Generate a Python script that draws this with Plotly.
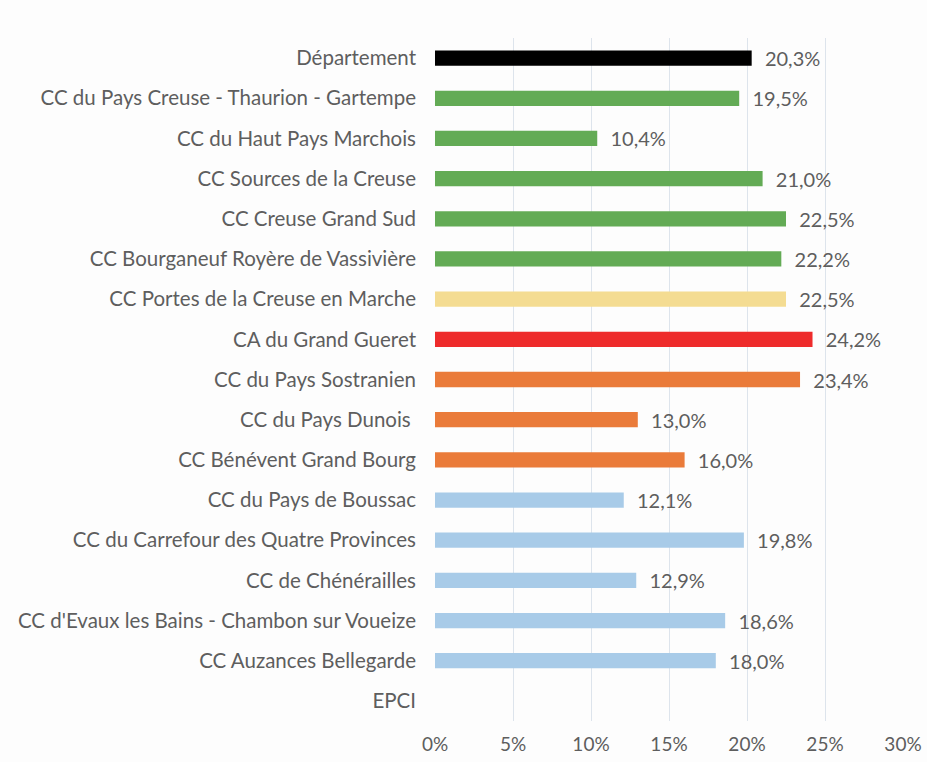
import plotly.graph_objects as go

categories = [
    "Département",
    "CC du Pays Creuse - Thaurion - Gartempe",
    "CC du Haut Pays Marchois",
    "CC Sources de la Creuse",
    "CC Creuse Grand Sud",
    "CC Bourganeuf Royère de Vassivière",
    "CC Portes de la Creuse en Marche",
    "CA du Grand Gueret",
    "CC du Pays Sostranien",
    "CC du Pays Dunois ",
    "CC Bénévent Grand Bourg",
    "CC du Pays de Boussac",
    "CC du Carrefour des Quatre Provinces",
    "CC de Chénérailles",
    "CC d'Evaux les Bains - Chambon sur Voueize",
    "CC Auzances Bellegarde",
    "EPCI",
]
values = [20.3, 19.5, 10.4, 21.0, 22.5, 22.2, 22.5, 24.2, 23.4, 13.0, 16.0,
          12.1, 19.8, 12.9, 18.6, 18.0, None]
colors = ["#000000", "#63ab55", "#63ab55", "#63ab55", "#63ab55", "#63ab55",
          "#f4dc92", "#ee2b2b", "#ea7b3a", "#ea7b3a", "#ea7b3a",
          "#a8cbe8", "#a8cbe8", "#a8cbe8", "#a8cbe8", "#a8cbe8", "#ffffff"]
tick_vals = [0, 5, 10, 15, 20, 25, 30]
tick_text = ["0%", "5%", "10%", "15%", "20%", "25%", "30%"]

labels = ["" if v is None else "  " + f"{v:.1f}%".replace(".", ",") for v in values]

fig = go.Figure(go.Bar(
    x=values, y=categories, orientation="h",
    marker=dict(color=colors, line=dict(width=0)),
    text=labels, textposition="outside", cliponaxis=False,
    constraintext="none",
    textfont=dict(family="Lato", size=20, color="#5e5e5e"),
    width=0.38,
))

fig.update_layout(
    width=927, height=762,
    margin=dict(l=435, r=24, t=38, b=41),
    paper_bgcolor="#fdfdfd", plot_bgcolor="#fdfdfd",
    showlegend=False,
    font=dict(family="Lato", size=20, color="#5e5e5e"),
    xaxis=dict(range=[0, 30], tickvals=tick_vals, ticktext=tick_text,
               showgrid=True, gridcolor="#dde4ec", gridwidth=1,
               zeroline=False, showline=False, ticks="",
               automargin=False, ticklabelstandoff=10,
               tickfont=dict(family="Lato", size=19, color="#5e5e5e")),
    yaxis=dict(autorange="reversed", showgrid=False, showline=False,
               zeroline=False, ticks="", automargin=False,
               ticklabelstandoff=18,
               tickfont=dict(family="Lato", size=20.5, color="#5e5e5e")),
)

fig.write_html(
    "out.html",
    config={"displayModeBar": False},
    post_script="document.body.style.margin='0';document.body.style.background='#fdfdfd';",
)
